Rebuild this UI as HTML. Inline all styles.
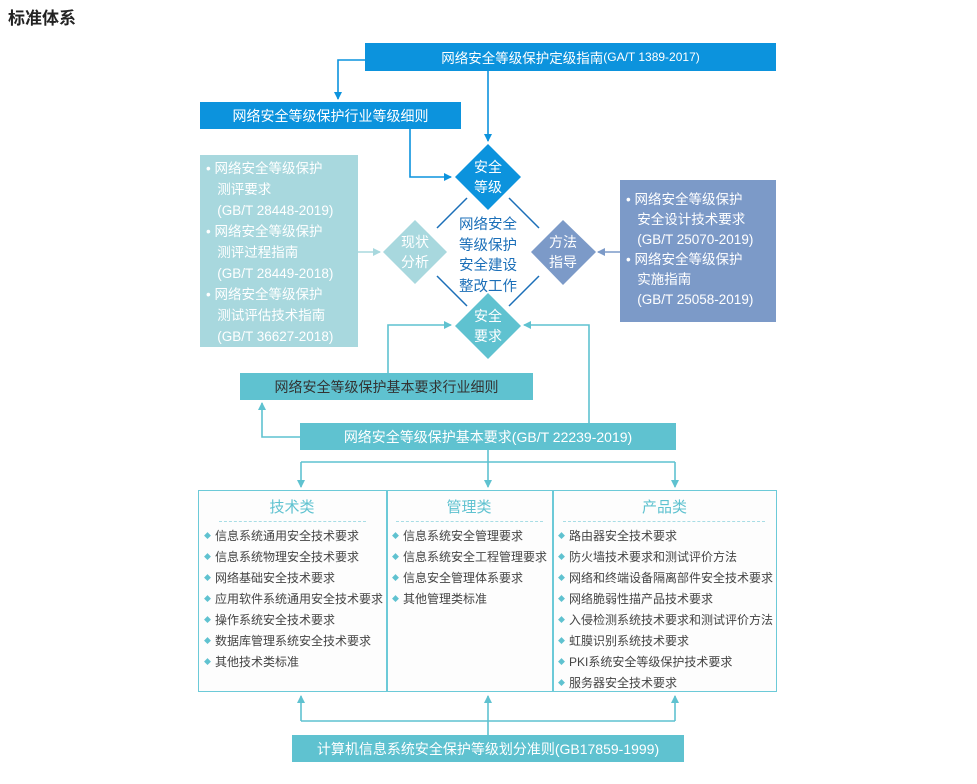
<!DOCTYPE html>
<html><head><meta charset="utf-8">
<style>
*{margin:0;padding:0;box-sizing:border-box}
body{width:977px;height:784px;background:#fff;position:relative;overflow:hidden;font-family:"Liberation Sans","Noto Sans CJK SC",sans-serif}
.a{position:absolute}
.box{position:absolute;display:flex;align-items:center;justify-content:center;font-size:14px;white-space:nowrap}
.blue{background:#0c93dd;color:#fff}
.teal{background:#5fc2d0}
.list{position:absolute;font-size:12px;color:#444;line-height:20px;white-space:nowrap}
.list div::before{content:"◆";color:#5fc2d0;font-size:7px;margin-right:4px;vertical-align:2px}
.hd{position:absolute;color:#5fc2d0;font-size:15px;text-align:center}
.dash{position:absolute;border-top:1.5px dashed #a8dde5;height:0}
.dtext{position:absolute;color:#fff;font-size:14px;line-height:20px;text-align:center;width:60px}
.side{position:absolute;color:#fff;font-size:13.5px;line-height:21px;white-space:nowrap}
</style></head><body>
<div class="a" style="left:8px;top:4px;font-size:17px;font-weight:bold;color:#222">标准体系</div>

<svg class="a" style="left:0;top:0" width="977" height="784">
<defs>
<marker id="mb" markerWidth="8" markerHeight="8" refX="7" refY="4" orient="auto" markerUnits="userSpaceOnUse"><path d="M0,0L8,4L0,8z" fill="#0c93dd"/></marker>
<marker id="mt" markerWidth="8" markerHeight="8" refX="7" refY="4" orient="auto" markerUnits="userSpaceOnUse"><path d="M0,0L8,4L0,8z" fill="#5fc2d0"/></marker>
<marker id="ml" markerWidth="8" markerHeight="8" refX="7" refY="4" orient="auto" markerUnits="userSpaceOnUse"><path d="M0,0L8,4L0,8z" fill="#a8d8de"/></marker>
<marker id="mp" markerWidth="8" markerHeight="8" refX="7" refY="4" orient="auto" markerUnits="userSpaceOnUse"><path d="M0,0L8,4L0,8z" fill="#7c9ac8"/></marker>
</defs>
<g fill="none" stroke-width="1.6">
<path d="M365,60H338V99" stroke="#0c93dd" marker-end="url(#mb)"/>
<path d="M488,71V141" stroke="#0c93dd" marker-end="url(#mb)"/>
<path d="M410,129V177H451" stroke="#0c93dd" marker-end="url(#mb)"/>
<path d="M358,252H380" stroke="#a8d8de" marker-end="url(#ml)"/>
<path d="M620,252H598" stroke="#7c9ac8" marker-end="url(#mp)"/>
<path d="M388,373V325H451" stroke="#5fc2d0" marker-end="url(#mt)"/>
<path d="M589,423V325H524" stroke="#5fc2d0" marker-end="url(#mt)"/>
<path d="M300,437H262V403" stroke="#5fc2d0" marker-end="url(#mt)"/>
<path d="M488,450V462M301,462H675" stroke="#5fc2d0"/>
<path d="M301,462V487" stroke="#5fc2d0" marker-end="url(#mt)"/>
<path d="M488,462V487" stroke="#5fc2d0" marker-end="url(#mt)"/>
<path d="M675,462V487" stroke="#5fc2d0" marker-end="url(#mt)"/>
<path d="M488,735V721M301,721H675" stroke="#5fc2d0"/>
<path d="M301,721V696" stroke="#5fc2d0" marker-end="url(#mt)"/>
<path d="M488,721V696" stroke="#5fc2d0" marker-end="url(#mt)"/>
<path d="M675,721V696" stroke="#5fc2d0" marker-end="url(#mt)"/>
<path d="M467,198L437,228M509,198L539,228M437,276L467,306M539,276L509,306" stroke="#1b6fb8" stroke-width="1.5"/>
</g>
<polygon points="488,144 521,177 488,210 455,177" fill="#0c93dd"/>
<polygon points="415,220 447,252 415,284 383,252" fill="#a8d8de"/>
<polygon points="563,220 596,252 563,285 531,252" fill="#7c9ac8"/>
<polygon points="488,293 521,326 488,359 455,326" fill="#5fc2d0"/>
</svg>

<div class="box blue" style="left:365px;top:43px;width:411px;height:28px;font-size:13.5px">网络安全等级保护定级指南<span style="font-size:12px">(GA/T 1389-2017)</span></div>
<div class="box blue" style="left:200px;top:102px;width:261px;height:27px">网络安全等级保护行业等级细则</div>

<div class="dtext" style="left:458px;top:157px">安全<br>等级</div>
<div class="dtext" style="left:385px;top:232px">现状<br>分析</div>
<div class="dtext" style="left:533px;top:232px">方法<br>指导</div>
<div class="dtext" style="left:458px;top:306px">安全<br>要求</div>
<div class="a" style="left:450px;top:215px;width:76px;text-align:center;color:#1b6fb8;font-size:14.5px;line-height:20.5px">网络安全<br>等级保护<br>安全建设<br>整改工作</div>

<div class="a" style="left:200px;top:155px;width:158px;height:192px;background:#a8d8de"></div>
<div class="side" style="left:206px;top:158px">• 网络安全等级保护<br>&nbsp;&nbsp;&nbsp;测评要求<br>&nbsp;&nbsp;&nbsp;(GB/T 28448-2019)<br>• 网络安全等级保护<br>&nbsp;&nbsp;&nbsp;测评过程指南<br>&nbsp;&nbsp;&nbsp;(GB/T 28449-2018)<br>• 网络安全等级保护<br>&nbsp;&nbsp;&nbsp;测试评估技术指南<br>&nbsp;&nbsp;&nbsp;(GB/T 36627-2018)</div>

<div class="a" style="left:620px;top:180px;width:156px;height:142px;background:#7c9ac8"></div>
<div class="side" style="left:626px;top:190px;line-height:20px">• 网络安全等级保护<br>&nbsp;&nbsp;&nbsp;安全设计技术要求<br>&nbsp;&nbsp;&nbsp;(GB/T 25070-2019)<br>• 网络安全等级保护<br>&nbsp;&nbsp;&nbsp;实施指南<br>&nbsp;&nbsp;&nbsp;(GB/T 25058-2019)</div>

<div class="box teal" style="left:240px;top:373px;width:293px;height:27px;color:#333">网络安全等级保护基本要求行业细则</div>
<div class="box teal" style="left:300px;top:423px;width:376px;height:27px;color:#fff">网络安全等级保护基本要求(GB/T 22239-2019)</div>

<div class="a" style="left:198px;top:490px;width:579px;height:202px;border:1.5px solid #6ccad8;background:#fdfdfd"></div>
<div class="a" style="left:386px;top:490px;width:1.5px;height:202px;background:#6ccad8"></div>
<div class="a" style="left:552px;top:490px;width:1.5px;height:202px;background:#6ccad8"></div>

<div class="hd" style="left:198px;top:496px;width:188px">技术类</div>
<div class="hd" style="left:386px;top:496px;width:166px">管理类</div>
<div class="hd" style="left:552px;top:496px;width:225px">产品类</div>
<div class="dash" style="left:219px;top:521px;width:147px"></div>
<div class="dash" style="left:396px;top:521px;width:147px"></div>
<div class="dash" style="left:563px;top:521px;width:202px"></div>

<div class="list" style="left:204px;top:526px">
<div>信息系统通用安全技术要求</div><div>信息系统物理安全技术要求</div><div>网络基础安全技术要求</div><div>应用软件系统通用安全技术要求</div><div>操作系统安全技术要求</div><div>数据库管理系统安全技术要求</div><div>其他技术类标准</div></div>
<div class="list" style="left:392px;top:526px">
<div>信息系统安全管理要求</div><div>信息系统安全工程管理要求</div><div>信息安全管理体系要求</div><div>其他管理类标准</div></div>
<div class="list" style="left:558px;top:526px">
<div>路由器安全技术要求</div><div>防火墙技术要求和测试评价方法</div><div>网络和终端设备隔离部件安全技术要求</div><div>网络脆弱性描产品技术要求</div><div>入侵检测系统技术要求和测试评价方法</div><div>虹膜识别系统技术要求</div><div>PKI系统安全等级保护技术要求</div><div>服务器安全技术要求</div></div>

<div class="box teal" style="left:292px;top:735px;width:392px;height:27px;color:#fff">计算机信息系统安全保护等级划分准则(GB17859-1999)</div>
</body></html>
